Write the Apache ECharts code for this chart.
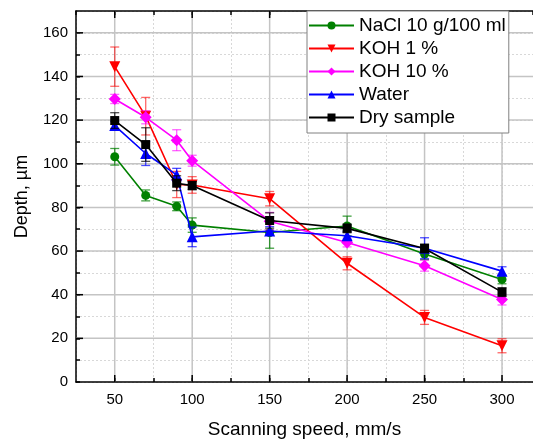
<!DOCTYPE html>
<html>
<head>
<meta charset="utf-8">
<script src="https://cdn.jsdelivr.net/npm/echarts@6/dist/echarts.min.js"></script>
<style>html,body{margin:0;padding:0;background:#fff}#c{width:533px;height:444px}</style>
</head>
<body>
<div id="c"></div>
<script>
const xVals = [50, 70, 90, 100, 150, 200, 250, 300];
const naclY = [103.2, 85.5, 80.5, 71.9, 68.5, 71.5, 58.6, 47.0];
const naclErr = [3.8, 2.5, 2.0, 3.3, 7.2, 4.5, 2.5, 2.0];
const koh1Y = [144.5, 121.8, 90.5, 90.3, 84.0, 54.4, 29.6, 16.6];
const koh1Err = [9.0, 8.6, 6.0, 3.8, 3.3, 3.0, 3.2, 3.2];
const koh10Y = [129.7, 121.3, 110.8, 101.4, 73.7, 63.9, 53.3, 37.8];
const koh10Err = [2.1, 3.0, 4.8, 2.5, 4.0, 2.0, 2.5, 2.5];
const waterY = [117.5, 104.7, 94.9, 66.5, 69.2, 67.0, 61.3, 50.8];
const waterErr = [2.0, 5.5, 3.0, 4.5, 2.0, 2.0, 4.8, 2.0];
const dryY = [119.8, 108.8, 91.1, 90.0, 74.0, 70.4, 61.2, 41.2];
const dryErr = [3.6, 7.7, 3.4, 1.9, 3.5, 2.0, 2.0, 2.0];

const xMajorTicks = [50, 100, 150, 200, 250, 300];
const yMajorTicks = [20, 40, 60, 80, 100, 120, 140, 160];

const seriesDefs = [
  {name: 'NaCl 10 g/100 ml', y: naclY, err: naclErr, color: '#008000', err_c: 'rgba(0,128,0,0.75)', symbol: 'circle', size: 9, rot: 0},
  {name: 'KOH 1 %', y: koh1Y, err: koh1Err, color: '#ff0000', err_c: 'rgba(255,0,0,0.6)', symbol: 'triangle', size: 11, rot: 180},
  {name: 'KOH 10 %', y: koh10Y, err: koh10Err, color: '#ff00ff', err_c: 'rgba(255,0,255,0.6)', symbol: 'diamond', size: 12, rot: 0},
  {name: 'Water', y: waterY, err: waterErr, color: '#0000ff', err_c: 'rgba(0,0,255,0.7)', symbol: 'triangle', size: 11, rot: 0},
  {name: 'Dry sample', y: dryY, err: dryErr, color: '#000000', err_c: 'rgba(0,0,0,0.7)', symbol: 'rect', size: 9, rot: 0}
];

const FONT = 'Liberation Sans, Arial, sans-serif';

const series = [];

// major grid lines + major ticks
series.push({
  type: 'custom', silent: true, z: 1,
  data: xMajorTicks.map(v => [v, 0]),
  renderItem: function (params, api) {
    const cs = params.coordSys;
    const p = api.coord([api.value(0), 0]);
    return {type: 'group', children: [
      {type: 'line', shape: {x1: p[0], y1: cs.y, x2: p[0], y2: cs.y + cs.height}, style: {stroke: '#c4c4c4', lineWidth: 1.5}},
      {type: 'line', shape: {x1: p[0], y1: cs.y + cs.height, x2: p[0], y2: cs.y + cs.height - 7}, style: {stroke: '#000', lineWidth: 1.5}, z2: 50},
      {type: 'line', shape: {x1: p[0], y1: cs.y, x2: p[0], y2: cs.y + 7}, style: {stroke: '#000', lineWidth: 1.5}, z2: 50}
    ]};
  }
});
series.push({
  type: 'custom', silent: true, z: 1,
  data: yMajorTicks.map(v => [100, v]),
  renderItem: function (params, api) {
    const cs = params.coordSys;
    const p = api.coord([100, api.value(1)]);
    return {type: 'group', children: [
      {type: 'line', shape: {x1: cs.x, y1: p[1], x2: cs.x + cs.width, y2: p[1]}, style: {stroke: '#c4c4c4', lineWidth: 1.5}},
      {type: 'line', shape: {x1: cs.x, y1: p[1], x2: cs.x + 7, y2: p[1]}, style: {stroke: '#000', lineWidth: 1.5}, z2: 50}
    ]};
  }
});

seriesDefs.forEach((d, i) => {
  series.push({
    type: 'custom', name: d.name + ' err', silent: true, z: 3 + i * 2,
    data: xVals.map((x, k) => [x, d.y[k], d.err[k]]),
    renderItem: function (params, api) {
      const x = api.value(0), y = api.value(1), e = api.value(2);
      const top = api.coord([x, y + e]);
      const bot = api.coord([x, y - e]);
      const hw = 4.5;
      const st = {stroke: d.err_c, lineWidth: 1.3};
      return {type: 'group', children: [
        {type: 'line', shape: {x1: top[0], y1: top[1], x2: bot[0], y2: bot[1]}, style: st},
        {type: 'line', shape: {x1: top[0] - hw, y1: top[1], x2: top[0] + hw, y2: top[1]}, style: st},
        {type: 'line', shape: {x1: bot[0] - hw, y1: bot[1], x2: bot[0] + hw, y2: bot[1]}, style: st}
      ]};
    }
  });
  series.push({
    type: 'line', name: d.name, z: 4 + i * 2,
    data: xVals.map((x, k) => [x, d.y[k]]),
    symbol: d.symbol, symbolSize: d.size, symbolRotate: d.rot, showAllSymbol: true,
    itemStyle: {color: d.color},
    lineStyle: {color: d.color, width: 1.6},
    emphasis: {disabled: true},
    animation: false
  });
});

const chart = echarts.init(document.getElementById('c'));
chart.setOption({
  animation: false,
  backgroundColor: '#fff',
  grid: {left: 76, top: 11, right: 0, bottom: 58, containLabel: false},
  legend: {
    data: seriesDefs.map(d => d.name),
    orient: 'vertical',
    left: 307, top: 11,
    width: 203,
    padding: [5, 3, 6, 1],
    itemGap: 4,
    itemWidth: 45, itemHeight: 10,
    backgroundColor: '#fff',
    borderColor: '#808080', borderWidth: 1,
    textStyle: {fontFamily: FONT, fontSize: 19, color: '#000', padding: [0, 0, 0, 0]},
    z: 20
  },
  xAxis: [{
    type: 'value', min: 25, max: 320, interval: 25,
    name: 'Scanning speed, mm/s', nameLocation: 'middle', nameGap: 38,
    nameTextStyle: {fontFamily: FONT, fontSize: 19, color: '#000'},
    axisLine: {show: true, onZero: false, lineStyle: {color: '#000', width: 1.5}},
    axisTick: {show: true, inside: true, length: 4, lineStyle: {color: '#000', width: 1.5}},
    axisLabel: {fontFamily: FONT, fontSize: 15, color: '#000', margin: 10,
      formatter: v => (v % 50 === 0 ? String(v) : ''), showMaxLabel: false, showMinLabel: false},
    splitLine: {show: true, lineStyle: {color: '#d8d8d8', type: [2, 2], width: 1}}
  }, {
    type: 'value', min: 25, max: 320, interval: 25, position: 'top',
    axisLine: {show: true, onZero: false, lineStyle: {color: '#000', width: 1.5}},
    axisTick: {show: true, inside: true, length: 4, lineStyle: {color: '#000', width: 1.5}},
    axisLabel: {show: false},
    splitLine: {show: false}
  }],
  yAxis: {
    type: 'value', min: 0, max: 170, interval: 10,
    name: 'Depth, µm', nameLocation: 'middle', nameGap: 45, nameRotate: 90,
    nameTextStyle: {fontFamily: FONT, fontSize: 18, color: '#000'},
    axisLine: {show: true, onZero: false, lineStyle: {color: '#000', width: 1.5}},
    axisTick: {show: true, inside: true, length: 4, lineStyle: {color: '#000', width: 1.5}},
    axisLabel: {fontFamily: FONT, fontSize: 15, color: '#000', margin: 8,
      formatter: v => (v % 20 === 0 ? String(v) : ''), showMaxLabel: false},
    splitLine: {show: true, lineStyle: {color: '#d8d8d8', type: [2, 2], width: 1}}
  },
  series: series
});
</script>
</body>
</html>
